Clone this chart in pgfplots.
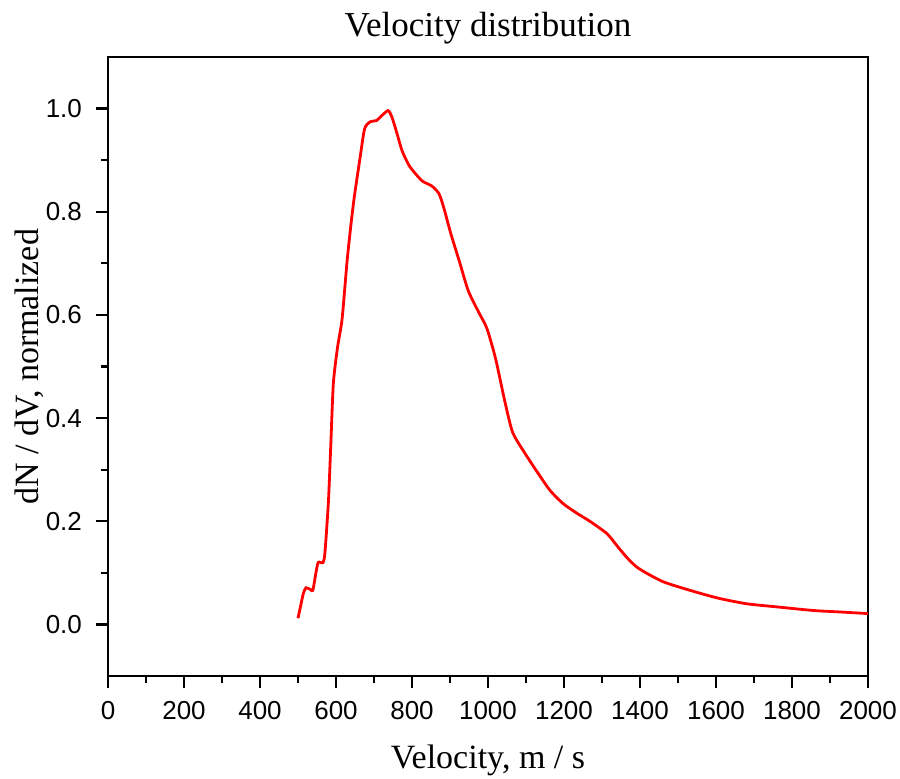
\documentclass[border=0pt]{standalone}
\usepackage{fontspec}
\setmainfont{Liberation Serif}
\newfontfamily\arial{Liberation Sans}
\usepackage{pgfplots}
\pgfplotsset{compat=1.18}

\begin{document}
\begin{tikzpicture}
\useasboundingbox (-54pt,-51pt) rectangle (396pt,338pt);
\begin{axis}[
    width=380pt, height=309.5pt, scale only axis,
    xmin=0, xmax=2000, ymin=-0.1, ymax=1.1,
    xtick={0,200,...,2000}, minor x tick num=1,
    ytick={0,0.2,...,1.0}, minor y tick num=1,
    tick align=outside, tick pos=left,
    major tick length=6pt, minor tick length=3.5pt,
    axis line style={line width=1.1pt},
    tick style={black, line width=1.1pt},
    /pgf/number format/assume math mode=true,
    ticklabel style={font=\arial\fontsize{13}{13}\selectfont},
    yticklabel style={xshift=-3.5pt, /pgf/number format/.cd, fixed, fixed zerofill, precision=1},
    xticklabel style={yshift=-3pt, /pgf/number format/.cd, 1000 sep={}},
    scaled ticks=false,
    title={Velocity distribution},
    title style={at={(axis description cs:0.5,1)}, anchor=base, yshift=4.5pt,
                 font=\fontsize{17.5}{17.5}\selectfont},
    xlabel={Velocity, m / s},
    xlabel style={at={(axis description cs:0.5,0)}, anchor=base, yshift=-46pt,
                  font=\fontsize{17}{17}\selectfont},
    ylabel={dN / dV, normalized},
    ylabel style={at={(axis description cs:-0.092,0.5)}, anchor=base,
                  font=\fontsize{17}{17}\selectfont},
]
\addplot[red, line width=1.4pt, smooth, tension=0.4] coordinates {
    (500,0.012) (507,0.036) (514,0.060) (521,0.071) (532,0.068) (539,0.066)
    (546,0.095) (553,0.120) (566,0.120) (571,0.140) (580,0.237) (586,0.342)
    (593,0.467) (604,0.537) (616,0.592) (629,0.703) (639,0.773) (648,0.828)
    (662,0.898) (675,0.960) (689,0.974) (707,0.977) (720,0.986) (737,0.996)
    (747,0.984) (760,0.953) (774,0.918) (792,0.890) (810,0.873) (828,0.859)
    (852,0.850) (871,0.835) (884,0.807) (902,0.758) (925,0.703) (948,0.647)
    (975,0.606) (997,0.574) (1020,0.515) (1045,0.430) (1065,0.372) (1097,0.332)
    (1130,0.295) (1163,0.260) (1198,0.234) (1235,0.215) (1268,0.200) (1313,0.176)
    (1340,0.152) (1365,0.130) (1390,0.112) (1418,0.099) (1460,0.083) (1505,0.072)
    (1560,0.060) (1611,0.050) (1681,0.040) (1760,0.034) (1856,0.027) (1930,0.024)
    (2000,0.021)
};
\end{axis}
\end{tikzpicture}
\end{document}
